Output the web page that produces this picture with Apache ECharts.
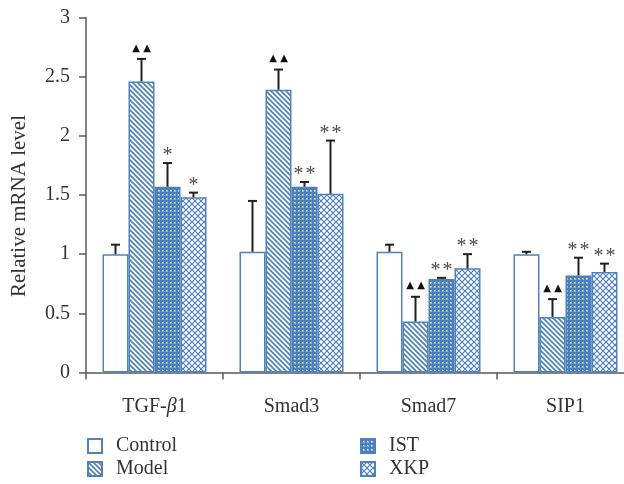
<!DOCTYPE html>
<html>
<head>
<meta charset="utf-8">
<script src="https://cdn.jsdelivr.net/npm/echarts@6/dist/echarts.min.js"></script>
<style>html,body{margin:0;padding:0;background:#fff;overflow:hidden;width:624px;height:484px}#c{width:634px;height:484px}</style>
</head>
<body>
<div id="c"></div>
<script>
// ---- data ----
const categories = ['TGF-β1', 'Smad3', 'Smad7', 'SIP1'];
const seriesNames = ['Control', 'Model', 'IST', 'XKP'];
const controlVals = [1.00, 1.02, 1.02, 1.00];
const modelVals = [2.46, 2.39, 0.43, 0.47];
const istVals = [1.57, 1.57, 0.79, 0.82];
const xkpVals = [1.48, 1.51, 0.88, 0.85];
const controlErr = [0.08, 0.43, 0.06, 0.02];
const modelErr = [0.19, 0.17, 0.21, 0.15];
const istErr = [0.20, 0.04, 0.01, 0.15];
const xkpErr = [0.04, 0.45, 0.12, 0.07];
const controlMarks = ['', '', '', ''];
const modelMarks = ['▲▲', '▲▲', '▲▲', '▲▲'];
const istMarks = ['*', '**', '**', '**'];
const xkpMarks = ['*', '**', '**', '**'];
const yTicks = ['0', '0.5', '1', '1.5', '2', '2.5', '3'];

// ---- patterns ----
const BLUE = '#4f81bd';
function mk(w, h, draw) {
  const cv = document.createElement('canvas');
  cv.width = w; cv.height = h;
  const ctx = cv.getContext('2d');
  draw(ctx, w, h);
  return { image: cv, repeat: 'repeat' };
}
const patModel = mk(5, 5, (ctx, w, h) => {
  ctx.fillStyle = '#fff'; ctx.fillRect(0, 0, w, h);
  ctx.strokeStyle = BLUE; ctx.lineWidth = 1.7;
  ctx.beginPath();
  ctx.moveTo(-1, -1); ctx.lineTo(w + 1, h + 1);
  ctx.moveTo(-1, h - 1); ctx.lineTo(1, h + 1);
  ctx.moveTo(w - 1, -1); ctx.lineTo(w + 1, 1);
  ctx.stroke();
});
const patIST = mk(4, 4, (ctx, w, h) => {
  ctx.fillStyle = '#4a7fc0'; ctx.fillRect(0, 0, w, h);
  ctx.fillStyle = '#8dbbe8'; ctx.fillRect(2, 2, 2, 2);
  ctx.fillStyle = '#ffffff'; ctx.fillRect(2, 2, 1, 1);
});
const patXKP = mk(6, 6, (ctx, w, h) => {
  ctx.fillStyle = '#fff'; ctx.fillRect(0, 0, w, h);
  ctx.strokeStyle = BLUE; ctx.lineWidth = 1.2;
  ctx.beginPath();
  ctx.moveTo(0, 0); ctx.lineTo(w, h);
  ctx.moveTo(w, 0); ctx.lineTo(0, h);
  ctx.stroke();
});

const BAR_W = 26;
const vals = [controlVals, modelVals, istVals, xkpVals];
const errs = [controlErr, modelErr, istErr, xkpErr];
const marks = [controlMarks, modelMarks, istMarks, xkpMarks];
const fills = ['#ffffff', patModel, patIST, patXKP];

const errData = [];
const errLabels = [];
for (let s = 0; s < 4; s++) {
  for (let c = 0; c < categories.length; c++) {
    errData.push([c, s, vals[s][c] + errs[s][c], vals[s][c]]);
    errLabels.push(marks[s][c]);
  }
}

const serif = '"Liberation Serif", "DejaVu Serif", serif';

const barSeries = seriesNames.map((n, i) => ({
  name: n,
  type: 'bar',
  data: vals[i],
  barWidth: BAR_W,
  barGap: '0%',
  itemStyle: { color: fills[i], borderColor: BLUE, borderWidth: 1.5 },
  emphasis: { disabled: true },
  z: 2
}));

function markText(str, x, y, tri) {
  return {
    type: 'text',
    style: {
      text: str, x: x, y: y,
      align: 'center', verticalAlign: 'bottom',
      fill: tri ? '#111' : '#4d4d4d',
      font: tri ? '10px "DejaVu Sans", sans-serif' : '20px ' + serif
    }
  };
}

const errSeries = {
  type: 'custom',
  data: errData,
  z: 5,
  silent: true,
  renderItem: function (params, api) {
    const c = api.value(0), s = api.value(1), top = api.value(2), base = api.value(3);
    const p0 = api.coord([c, base]);
    const p1 = api.coord([c, top]);
    const x = p0[0] + (s - 1.5) * BAR_W;
    const lab = errLabels[params.dataIndex];
    const children = [
      { type: 'line', shape: { x1: x, y1: p0[1], x2: x, y2: p1[1] }, style: { stroke: '#231f20', lineWidth: 2 } },
      { type: 'line', shape: { x1: x - 4.5, y1: p1[1], x2: x + 4.5, y2: p1[1] }, style: { stroke: '#231f20', lineWidth: 2 } }
    ];
    if (lab) {
      const tri = lab.indexOf('▲') >= 0;
      const chars = Array.from(lab);
      const step = tri ? 11 : 12;
      const y = tri ? p1[1] - 6 : p1[1] + 3;
      chars.forEach((ch, k) => {
        const dx = (k - (chars.length - 1) / 2) * step;
        children.push(markText(ch, x + dx, y, tri));
      });
    }
    return { type: 'group', children: children };
  }
};

const legendBase = {
  orient: 'vertical',
  top: 436,
  padding: 0,
  icon: 'rect',
  itemWidth: 14, itemHeight: 14, itemGap: 3,
  selectedMode: false,
  textStyle: { fontFamily: serif, fontSize: 20, lineHeight: 20, color: '#333', padding: [0, 0, 0, 9] }
};

const chart = echarts.init(document.getElementById('c'), null, { renderer: 'canvas' });
chart.setOption({
  backgroundColor: '#fff',
  animation: false,
  grid: { left: 86, top: 17.5, right: 0, bottom: 111.5 },
  legend: [
    Object.assign({ data: ['Control', 'Model'], left: 87 }, legendBase),
    Object.assign({ data: ['IST', 'XKP'], left: 360 }, legendBase)
  ],
  xAxis: {
    type: 'category',
    data: categories,
    axisLine: { lineStyle: { color: '#595959', width: 1.5 } },
    axisTick: { show: true, length: 7, lineStyle: { color: '#595959', width: 1.5 } },
    axisLabel: {
      margin: 24,
      fontFamily: serif, fontSize: 20, color: '#333',
      formatter: function (v) {
        return v.replace('β', '{i|β}');
      },
      rich: { i: { fontFamily: serif, fontSize: 20, fontStyle: 'italic', color: '#333' } }
    }
  },
  yAxis: {
    type: 'value',
    min: 0, max: 3, interval: 0.5,
    name: 'Relative mRNA level',
    nameLocation: 'middle',
    nameGap: 56,
    nameTextStyle: { fontFamily: serif, fontSize: 21, color: '#333', padding: [0, 22, 0, 0] },
    splitLine: { show: false },
    axisLine: { show: true, lineStyle: { color: '#595959', width: 1.5 } },
    axisTick: { show: true, length: 7, lineStyle: { color: '#595959', width: 1.5 } },
    axisLabel: {
      margin: 16, fontFamily: serif, fontSize: 20, color: '#333',
      formatter: function (v) {
        const idx = Math.round(v / 0.5);
        return yTicks[idx] !== undefined ? yTicks[idx] : String(v);
      }
    }
  },
  series: barSeries.concat([errSeries])
});
</script>
</body>
</html>
